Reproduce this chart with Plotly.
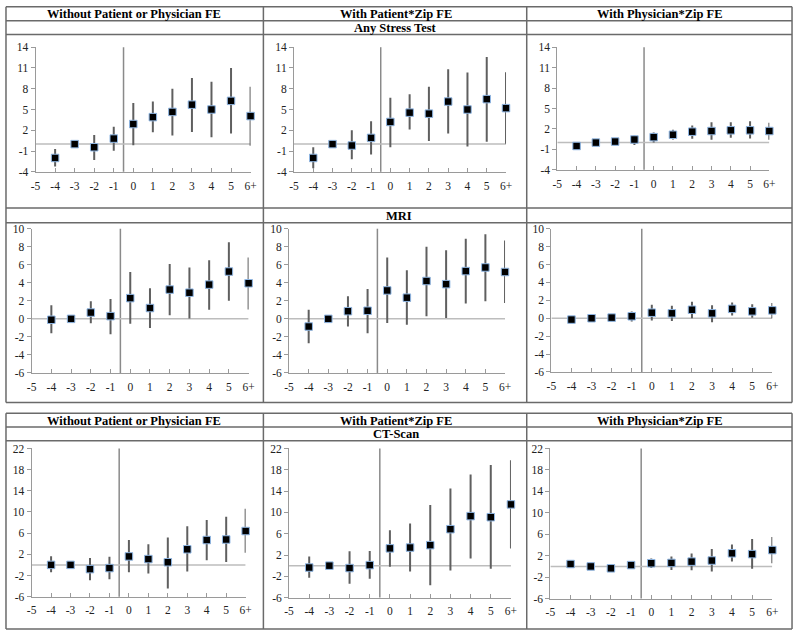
import plotly.graph_objects as go

# ---------------- data ----------------
event_time = [-4, -3, -2, -1, 0, 1, 2, 3, 4, 5, 6]
xtick_vals = [-5, -4, -3, -2, -1, 0, 1, 2, 3, 4, 5, 6]
xtick_text = ["-5", "-4", "-3", "-2", "-1", "0", "1", "2", "3", "4", "5", "6+"]

col_titles = ["Without Patient or Physician FE", "With Patient*Zip FE", "With Physician*Zip FE"]
row_titles = ["Any Stress Test", "MRI", "CT-Scan"]

# Any Stress Test
stress_none_est = [-2.0, 0.0, -0.45, 0.8, 2.9, 3.9, 4.65, 5.7, 5.0, 6.25, 4.05]
stress_none_hi = [-0.7, 0.0, 1.3, 2.5, 5.95, 6.15, 8.0, 9.55, 9.0, 11.0, 8.3]
stress_none_lo = [-3.25, 0.0, -2.3, -0.95, -0.15, 1.7, 1.25, 1.75, 1.0, 1.55, -0.25]

stress_pat_est = [-2.0, 0.0, -0.2, 0.9, 3.2, 4.55, 4.4, 6.15, 5.0, 6.5, 5.2]
stress_pat_hi = [-0.45, 0.0, 2.0, 3.3, 6.7, 7.2, 8.3, 10.8, 10.35, 12.6, 10.4]
stress_pat_lo = [-3.5, 0.0, -2.2, -1.5, -0.45, 2.1, 0.45, 1.55, -0.35, 0.35, 0.05]

stress_phy_est = [-0.5, 0.0, 0.15, 0.45, 0.8, 1.15, 1.6, 1.7, 1.8, 1.8, 1.7]
stress_phy_hi = [-0.2, 0.0, 0.5, 1.0, 1.5, 1.9, 2.5, 3.0, 3.0, 3.15, 2.9]
stress_phy_lo = [-0.8, 0.0, -0.2, -0.35, 0.0, 0.45, 0.55, 0.4, 0.7, 0.6, 0.4]

# MRI
mri_none_est = [-0.1, 0.0, 0.7, 0.3, 2.3, 1.2, 3.25, 2.9, 3.8, 5.25, 3.95]
mri_none_hi = [1.5, 0.0, 1.95, 2.2, 5.2, 3.4, 6.1, 5.7, 6.5, 8.5, 6.8]
mri_none_lo = [-1.6, 0.0, -0.5, -1.7, -0.55, -1.0, 0.4, 0.05, 1.0, 2.0, 1.05]

mri_pat_est = [-0.85, 0.0, 0.85, 0.9, 3.15, 2.35, 4.2, 3.85, 5.3, 5.7, 5.2]
mri_pat_hi = [1.0, 0.0, 2.5, 3.3, 6.8, 5.4, 8.0, 7.6, 8.9, 9.4, 8.7]
mri_pat_lo = [-2.7, 0.0, -0.85, -1.6, -0.45, -0.65, 0.3, 0.1, 1.7, 1.95, 1.75]

mri_phy_est = [-0.15, 0.0, 0.07, 0.22, 0.62, 0.55, 0.95, 0.55, 1.05, 0.77, 0.88]
mri_phy_hi = [0.2, 0.0, 0.4, 0.75, 1.5, 1.4, 1.85, 1.45, 1.75, 1.55, 1.7]
mri_phy_lo = [-0.5, 0.0, -0.3, -0.35, -0.25, -0.3, 0.0, -0.45, 0.3, 0.05, 0.0]

# CT-Scan
ct_none_est = [0.0, 0.0, -0.8, -0.6, 1.6, 1.1, 0.5, 2.95, 4.7, 4.8, 6.4]
ct_none_hi = [1.65, 0.0, 1.3, 1.55, 4.7, 3.9, 5.2, 7.3, 8.5, 9.1, 10.6]
ct_none_lo = [-1.4, 0.0, -2.9, -2.7, -1.4, -1.65, -4.45, -1.25, 0.9, 0.55, 2.3]

ct_pat_est = [-0.35, 0.0, -0.45, 0.1, 3.25, 3.4, 3.85, 6.85, 9.3, 9.1, 11.5]
ct_pat_hi = [1.7, 0.0, 2.7, 2.75, 6.65, 7.9, 11.4, 14.5, 17.1, 18.9, 19.8]
ct_pat_lo = [-2.25, 0.0, -3.4, -2.45, -0.2, -1.1, -3.7, -0.9, 1.35, -0.6, 3.2]

ct_phy_est = [0.45, 0.0, -0.35, 0.25, 0.6, 0.65, 0.9, 1.1, 2.45, 2.3, 3.05]
ct_phy_hi = [0.8, 0.0, 0.1, 0.8, 1.5, 1.85, 2.4, 3.25, 4.1, 5.1, 5.5]
ct_phy_lo = [0.1, 0.0, -0.8, -0.2, -0.3, -0.65, -0.7, -0.95, 0.9, -0.45, 0.6]

row_yranges = [[-4, 14], [-6, 10], [-6, 22]]
row_ytick_vals = [[-4, -1, 2, 5, 8, 11, 14],
                  [-6, -4, -2, 0, 2, 4, 6, 8, 10],
                  [-6, -2, 2, 6, 10, 14, 18, 22]]
row_ytick_text = [["-4", "-1", "2", "5", "8", "11", "14"],
                  ["-6", "-4", "-2", "0", "2", "4", "6", "8", "10"],
                  ["-6", "-2", "2", "6", "10", "14", "18", "22"]]

panels_data = [
    [(stress_none_est, stress_none_hi, stress_none_lo),
     (stress_pat_est, stress_pat_hi, stress_pat_lo),
     (stress_phy_est, stress_phy_hi, stress_phy_lo)],
    [(mri_none_est, mri_none_hi, mri_none_lo),
     (mri_pat_est, mri_pat_hi, mri_pat_lo),
     (mri_phy_est, mri_phy_hi, mri_phy_lo)],
    [(ct_none_est, ct_none_hi, ct_none_lo),
     (ct_pat_est, ct_pat_hi, ct_pat_lo),
     (ct_phy_est, ct_phy_hi, ct_phy_lo)],
]

# ---------------- layout geometry (pixels) ----------------
W, H = 800, 636
# plot areas: (x_left, x_right, y_top, y_bottom)
panel_px = [
    [(31, 249, 42, 169), (293, 508, 42, 169), (560, 775, 42, 167)],
    [(27, 247, 227, 374), (288, 507, 227, 374), (554, 778, 227, 373)],
    [(27, 244, 451, 602), (288, 513, 451, 603), (553, 778, 451, 604)],
]

def px(x):
    return x / W

def py(y):
    return 1 - y / H

SERIF = "Liberation Serif, Times New Roman, serif"
fig = go.Figure()
shapes = []
annotations = []

n = 0
for r in range(3):
    for c in range(3):
        n += 1
        est, hi, lo = panels_data[r][c]
        xl, xr, yt, yb = panel_px[r][c]
        xa = "x" if n == 1 else f"x{n}"
        ya = "y" if n == 1 else f"y{n}"
        err_plus = [h - e for h, e in zip(hi, est)]
        err_minus = [e - l for e, l in zip(est, lo)]
        fig.add_trace(go.Scatter(
            x=event_time, y=est, mode="markers",
            marker=dict(symbol="square", size=7.5, color="black",
                        line=dict(color="#8fb6e3", width=1)),
            error_y=dict(type="data", symmetric=False, array=err_plus,
                         arrayminus=err_minus, color="#5f5f5f",
                         thickness=2, width=0),
            xaxis=xa, yaxis=ya, showlegend=False, cliponaxis=False,
            hoverinfo="skip",
        ))
        axis_common = dict(showgrid=False, zeroline=False, showline=True,
                           linecolor="#9a9a9a", linewidth=1,
                           tickfont=dict(family=SERIF, size=11.5, color="#222"),
                           tickcolor="#9a9a9a", ticklen=4, tickwidth=1)
        fig.update_layout(**{
            ("xaxis" if n == 1 else f"xaxis{n}"): dict(
                domain=[px(xl), px(xr)], anchor=ya, range=[-5, 6],
                tickmode="array", tickvals=xtick_vals, ticktext=xtick_text,
                ticks="inside", fixedrange=True, ticklabelstandoff=3,
                **axis_common),
            ("yaxis" if n == 1 else f"yaxis{n}"): dict(
                domain=[py(yb), py(yt)], anchor=xa, range=row_yranges[r],
                tickmode="array", tickvals=row_ytick_vals[r],
                ticktext=row_ytick_text[r],
                ticks="outside", fixedrange=True, **axis_common),
        })
        # zero line
        shapes.append(dict(type="line", xref=xa, yref=ya, x0=-5, x1=6, y0=0, y1=0,
                           line=dict(color="#bdbdbd", width=1.5), layer="below"))
        # event line
        shapes.append(dict(type="line", xref=xa, yref=f"{ya} domain", x0=-0.5, x1=-0.5,
                           y0=0, y1=1, line=dict(color="#8a8a8a", width=1.5), layer="below"))

# ---------------- table borders ----------------
LC = "#6a6a6a"
LW = 1.5

def hline(y, x0=1, x1=798):
    shapes.append(dict(type="line", xref="paper", yref="paper", x0=px(x0), x1=px(x1),
                       y0=py(y), y1=py(y), line=dict(color=LC, width=LW)))

def vline(x, y0, y1):
    shapes.append(dict(type="line", xref="paper", yref="paper", x0=px(x), x1=px(x),
                       y0=py(y0), y1=py(y1), line=dict(color=LC, width=LW)))

# top table
for yy in [0.75, 15, 29, 206, 221, 404]:
    hline(yy)
for xx in [1, 262, 529, 798]:
    vline(xx, 0.75, 404)
# bottom table
for yy in [415, 429, 443, 635]:
    hline(yy)
for xx in [1, 262, 529, 798]:
    vline(xx, 415, 635)

col_centers = [131, 396, 664]

def label(text, x, y):
    annotations.append(dict(text=f"<b>{text}</b>", x=px(x), y=py(y), xref="paper",
                            yref="paper", showarrow=False, xanchor="center",
                            yanchor="middle",
                            font=dict(family=SERIF, size=12.5, color="black")))

for ci, t in enumerate(col_titles):
    label(t, col_centers[ci], 8)
    label(t, col_centers[ci], 422.5)
label(row_titles[0], col_centers[1], 22.5)
label(row_titles[1], 399, 214)
label(row_titles[2], col_centers[1], 436.5)

fig.update_layout(width=W, height=H, margin=dict(l=0, r=0, t=0, b=0),
                  paper_bgcolor="white", plot_bgcolor="white",
                  shapes=shapes, annotations=annotations, showlegend=False)

fig.write_html("out.html", config={"displayModeBar": False, "staticPlot": True},
               post_script="document.body.style.margin='0';")
